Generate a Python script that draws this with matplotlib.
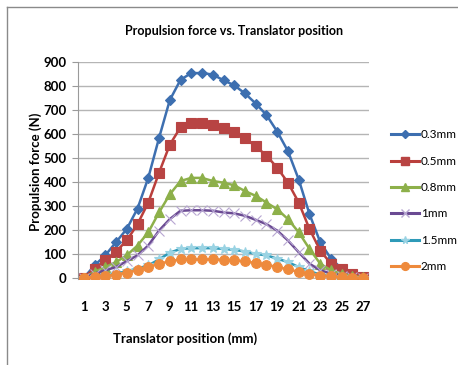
import numpy as np
import matplotlib
matplotlib.use("Agg")
import matplotlib.pyplot as plt
from matplotlib.lines import Line2D

plt.rcParams['font.family'] = ['Lato', 'DejaVu Sans']

# data
positions = list(range(1, 28))
f_03 = [0, 52, 94, 149, 204, 289, 417, 583, 741, 826, 854, 854, 848, 824,
        803, 769, 727, 679, 610, 528, 410, 266, 149, 80, 39, 18, 4]
f_05 = [0, 39, 73, 110, 156, 224, 314, 438, 555, 628, 645, 645, 638, 626,
        610, 583, 548, 510, 459, 397, 314, 204, 114, 59, 36, 18, 4]
f_08 = [0, 25, 45, 66, 94, 135, 190, 273, 348, 404, 417, 417, 404, 397,
        386, 362, 342, 314, 286, 245, 190, 121, 59, 32, 18, 7, 3]
f_1 = [0, 18, 32, 45, 70, 94, 135, 197, 245, 280, 282, 282, 280, 273,
       269, 259, 242, 224, 197, 156, 107, 59, 32, 18, 8, 3, 0]
f_15 = [0, 4, 11, 18, 28, 39, 52, 77, 105, 121, 124, 124, 124, 121,
        117, 110, 100, 94, 80, 66, 45, 28, 14, 7, 3, 1, 0]
f_2 = [0, 4, 7, 14, 22, 32, 45, 59, 69, 77, 77, 77, 77, 76,
       73, 69, 62, 55, 45, 36, 25, 17, 10, 6, 3, 1, 0]
labels = ['0.3mm', '0.5mm', '0.8mm', '1mm', '1.5mm', '2mm']

series = [f_03, f_05, f_08, f_1, f_15, f_2]
colors = ['#3D6FB0', '#BA3F3C', '#8DB04A', '#6A4A92', '#2E9AB8', '#EE8A3C']
mcolors = ['#3D6FB0', '#B84443', '#8DB04A', '#B7A6D2', '#9AD3E3', '#EE8A3C']
markers = ['D', 's', '^', 'x', '*', 'o']
msizes = [5.5, 7.5, 7.5, 7, 7, 7]

fig = plt.figure(figsize=(4.58, 3.65), dpi=100)
ax = fig.add_axes([0.170, 0.236, 0.636, 0.594])

for y, c, mc, m, ms in zip(series, colors, mcolors, markers, msizes):
    ax.plot(positions, y, color=c, lw=1.8, marker=m, ms=ms,
            markerfacecolor=mc, markeredgecolor=mc, markeredgewidth=0.8, zorder=3)

ax.set_xlim(0.45, 27.55)
ax.set_yticks(range(0, 901, 100))
ax.set_xticks(positions[::2])
ax.grid(axis='y', color='#b5b5b5', lw=1)
ax.set_axisbelow(True)
for s in ['top', 'right', 'bottom']:
    ax.spines[s].set_visible(False)
ax.spines['left'].set_color('#9a9a9a')
ax.tick_params(axis='y', length=4, color='#9a9a9a', labelsize=9.5, pad=4)
ax.tick_params(axis='x', length=0, labelsize=9.5, pad=16)
for t in ax.get_xticklabels() + ax.get_yticklabels():
    t.set_fontweight('bold')
ax.set_ylim(-4, 900)

fig.text(0.51, 0.915, 'Propulsion force vs. Translator position',
         ha='center', va='center', fontsize=9, fontweight='bold')
fig.text(0.405, 0.073, 'Translator position (mm)', ha='center', va='center',
         fontsize=9.5, fontweight='bold')
fig.text(0.077, 0.53, 'Propulsion force (N)', ha='center', va='center',
         rotation=90, fontsize=9.5, fontweight='bold')

handles = [Line2D([], [], color=c, lw=2.2, marker=m, ms=ms * 0.8,
                  markerfacecolor=mc, markeredgecolor=mc)
           for c, mc, m, ms in zip(colors, mcolors, markers, msizes)]
fig.legend(handles, labels, loc='center left', bbox_to_anchor=(0.83, 0.45),
           frameon=False, fontsize=8.5, handlelength=2.4, handletextpad=0.15,
           labelspacing=1.3)

# outer frame (left and top edges only visible)
fig.add_artist(Line2D([0.016, 0.016], [0.0, 0.981], color='#8a8a8a', lw=1))
fig.add_artist(Line2D([0.016, 1.0], [0.981, 0.981], color='#8a8a8a', lw=1))

fig.savefig('out.png', dpi=100)
